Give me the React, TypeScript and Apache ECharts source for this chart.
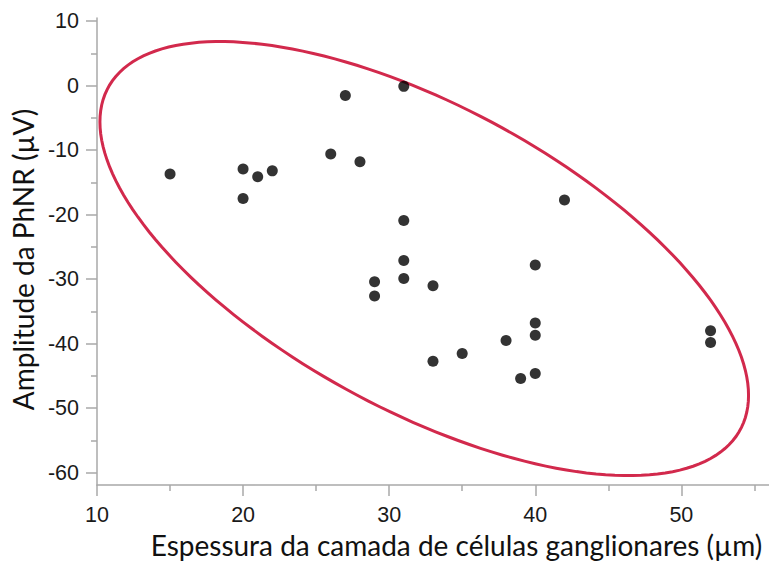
import React, { useEffect, useRef } from "react";
import * as echarts from "echarts";

// Scatter data: ganglion cell layer thickness (µm) vs PhNR amplitude (µV)
const thickness = [15, 20, 20, 21, 22, 26, 27, 28, 31, 31, 29, 29, 31, 31, 33, 33, 35, 38, 40, 40, 40, 39, 40, 42, 52, 52];
const amplitude = [-13.7, -12.9, -17.5, -14.1, -13.2, -10.6, -1.5, -11.8, -0.1, -20.9, -30.4, -32.6, -27.1, -29.9, -31.0, -42.7, -41.5, -39.5, -27.8, -36.8, -38.7, -45.4, -44.6, -17.7, -38.0, -39.8];

// Tick positions
const xMajorTicks = [10, 20, 30, 40, 50];
const xMinorTicks = [15, 25, 35, 45, 55];
const yMajorTicks = [-60, -50, -40, -30, -20, -10, 0, 10];
const yMinorTicks = [-55, -45, -35, -25, -15, -5, 5];

// Confidence ellipse (data units): centre and the two generating vectors
const ellipseCenter = [32.4, -26.8];
const ellipseU = [22.2, -21.2];
const ellipseV = [0, 26.13];

const xTitle = "Espessura da camada de células ganglionares (µm)";
const yTitle = "Amplitude da PhNR (µV)";

const AXIS_GREY = "#a8a8a8";
const LABEL_FONT = "'Liberation Sans', Arial, sans-serif";
const TITLE_FONT = "Lato, 'Open Sans', sans-serif";

export default function App() {
  const ref = useRef<HTMLDivElement>(null);

  useEffect(() => {
    if (!ref.current) return;
    const chart = echarts.init(ref.current, undefined, { renderer: "svg" });

    const points = thickness.map((x, i) => [x, amplitude[i]]);

    const xBase = {
      type: "value",
      min: 10,
      max: 56,
      splitLine: { show: false },
    };
    const yBase = {
      type: "value",
      min: -61.9,
      max: 10.5,
      splitLine: { show: false },
    };

    chart.setOption({
      animation: false,
      backgroundColor: "#ffffff",
      grid: { left: 97, right: 0, top: 18, bottom: 83, containLabel: false, outerBoundsMode: "none" },
      xAxis: [
        {
          ...xBase,
          position: "bottom",
          axisLine: { show: true, onZero: false, lineStyle: { color: AXIS_GREY, width: 1.5 } },
          axisTick: { show: true, customValues: xMajorTicks, length: 11, lineStyle: { color: AXIS_GREY, width: 1.5 } },
          axisLabel: {
            show: true,
            customValues: xMajorTicks,
            margin: 19,
            color: "#1a1a1a",
            fontSize: 21.5,
            fontFamily: LABEL_FONT,
          },
          name: xTitle,
          nameLocation: "middle",
          nameGap: 46,
          nameTextStyle: { color: "#111", fontSize: 28, fontFamily: TITLE_FONT, padding: [0, 0, 0, 47] },
        },
        {
          ...xBase,
          position: "bottom",
          axisLine: { show: false, onZero: false },
          axisTick: { show: true, customValues: xMinorTicks, length: 6, lineStyle: { color: AXIS_GREY, width: 1.5 } },
          axisLabel: { show: false },
        },
      ],
      yAxis: [
        {
          ...yBase,
          position: "left",
          axisLine: { show: true, onZero: false, lineStyle: { color: AXIS_GREY, width: 1.5 } },
          axisTick: { show: true, customValues: yMajorTicks, length: 11, lineStyle: { color: AXIS_GREY, width: 1.5 } },
          axisLabel: {
            show: true,
            customValues: yMajorTicks,
            margin: 18,
            color: "#1a1a1a",
            fontSize: 21.5,
            fontFamily: LABEL_FONT,
          },
          name: yTitle,
          nameLocation: "middle",
          nameGap: 58,
          nameTextStyle: { color: "#111", fontSize: 28, fontFamily: TITLE_FONT, padding: [0, 16, 0, 0] },
        },
        {
          ...yBase,
          position: "left",
          axisLine: { show: false, onZero: false },
          axisTick: { show: true, customValues: yMinorTicks, length: 6, lineStyle: { color: AXIS_GREY, width: 1.5 } },
          axisLabel: { show: false },
        },
      ],
      series: [
        {
          type: "custom",
          xAxisIndex: 0,
          yAxisIndex: 0,
          z: 1,
          silent: true,
          data: [ellipseCenter],
          renderItem: (_params: any, api: any) => {
            const pts: number[][] = [];
            const steps = 180;
            for (let k = 0; k < steps; k++) {
              const t = (k / steps) * Math.PI * 2;
              const c = Math.cos(t);
              const s = Math.sin(t);
              const dx = ellipseCenter[0] + ellipseU[0] * c + ellipseV[0] * s;
              const dy = ellipseCenter[1] + ellipseU[1] * c + ellipseV[1] * s;
              pts.push(api.coord([dx, dy]));
            }
            return {
              type: "polygon",
              shape: { points: pts },
              style: { fill: "none", stroke: "#d2294c", lineWidth: 3 },
            };
          },
        },
        {
          type: "scatter",
          xAxisIndex: 0,
          yAxisIndex: 0,
          z: 3,
          symbol: "circle",
          symbolSize: 11,
          itemStyle: { color: "#000000" },
          data: points,
        },
      ],
    });

    return () => chart.dispose();
  }, []);

  return (
    <div
      ref={ref}
      style={{ position: "fixed", left: 0, top: 0, width: 769, height: 568, background: "#fff" }}
    />
  );
}
